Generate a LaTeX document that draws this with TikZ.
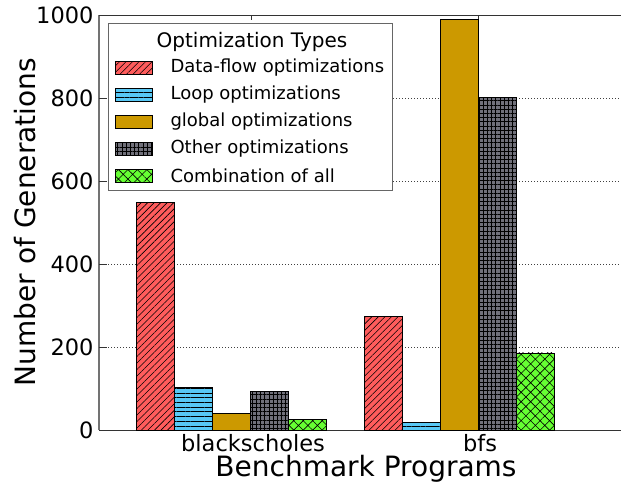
\documentclass[tikz,border=0pt]{standalone}
\usepackage{fontspec}
\setmainfont{DejaVu Sans}
\usetikzlibrary{patterns.meta}
\definecolor{dfred}{RGB}{255,92,92}
\definecolor{lpblue}{RGB}{88,200,245}
\definecolor{glgold}{RGB}{204,153,0}
\definecolor{otgray}{RGB}{112,112,122}
\definecolor{cbgreen}{RGB}{102,255,51}
\tikzset{
  bar/.style={draw=black, line width=0.8pt},
  dataflow/.style={bar, fill=dfred, postaction={pattern={Lines[angle=45,distance=4.6pt,line width=0.6pt]}, pattern color=black}},
  loopopt/.style={bar, fill=lpblue, postaction={pattern={Lines[angle=0,distance=4.7pt,line width=0.6pt]}, pattern color=black}},
  globalopt/.style={bar, fill=glgold},
  otheropt/.style={bar, fill=otgray, postaction={pattern={Hatch[angle=0,distance=4.2pt,line width=0.45pt]}, pattern color=black}},
  allopt/.style={bar, fill=cbgreen, postaction={pattern={Hatch[angle=45,distance=6.7pt,line width=0.6pt]}, pattern color=black}},
  gridline/.style={black!75, line width=0.7pt, dash pattern=on 1pt off 2pt},
  spine/.style={black!80, line width=1pt},
  ticklabel/.style={font=\fontsize{22.5}{22.5}\selectfont},
  axislabel/.style={font=\fontsize{28}{28}\selectfont},
  legendtext/.style={font=\fontsize{18}{18}\selectfont, anchor=west}
}
\begin{document}
\begin{tikzpicture}[x=1pt,y=-1pt]
\useasboundingbox (0,0) rectangle (621,487);
% grid and frame
\foreach \v in {200,400,600,800}
  \draw[gridline] (99,{430-0.4145*\v}) -- (621,{430-0.4145*\v});
\draw[spine] (99,15.5) -- (621,15.5);
\draw[spine] (99,430) -- (621,430);
\draw[black!55, line width=1.5pt] (99,15.5) -- (99,430);
\foreach \v in {0,200,...,1000}{
  \draw[spine] (99,{430-0.4145*\v}) -- (107,{430-0.4145*\v});
  \node[ticklabel, anchor=base east] (y\v) at (97,{438-0.4145*\v}) {\v};
}
\foreach \x in {251,478}{
  \draw[spine] (\x,15.5) -- (\x,20);
  \draw[spine] (\x,430) -- (\x,425.5);
}
% bars
\foreach \v/\s [count=\i] in {550/dataflow,102/loopopt,40/globalopt,92/otheropt,25/allopt}
  \draw[\s] ({136+38*(\i-1)},430) rectangle ++(38,{-0.4145*\v});
\foreach \v/\s [count=\i] in {275/dataflow,19/loopopt,990/globalopt,802/otheropt,186/allopt}
  \draw[\s] ({364+38*(\i-1)},430) rectangle ++(38,{-0.4145*\v});
% labels
\node[ticklabel, anchor=base] (bs) at (253,451) {blackscholes};
\node[ticklabel, anchor=base] (bfs) at (480,451) {bfs};
\node[axislabel, anchor=base] (xlab) at (366,476) {Benchmark Programs};
\node[axislabel, anchor=base, rotate=90] (ylab) at (35,222) {Number of Generations};
% legend
\draw[fill=white, draw=black!60, line width=1pt] (108,24) rectangle (392,190);
\node[font=\fontsize{20}{20}\selectfont, anchor=base] (ltitle) at (252,48) {Optimization Types};
\foreach \s/\t [count=\i] in {dataflow/Data-flow optimizations,loopopt/Loop optimizations,globalopt/global optimizations,otheropt/Other optimizations,allopt/Combination of all}{
  \draw[\s] (115,{61.5+27*(\i-1)}) rectangle ++(37,13);
  \node[legendtext] (l\i) at (167,{68+27*(\i-1)}) {\t};
}
\end{tikzpicture}
\end{document}
